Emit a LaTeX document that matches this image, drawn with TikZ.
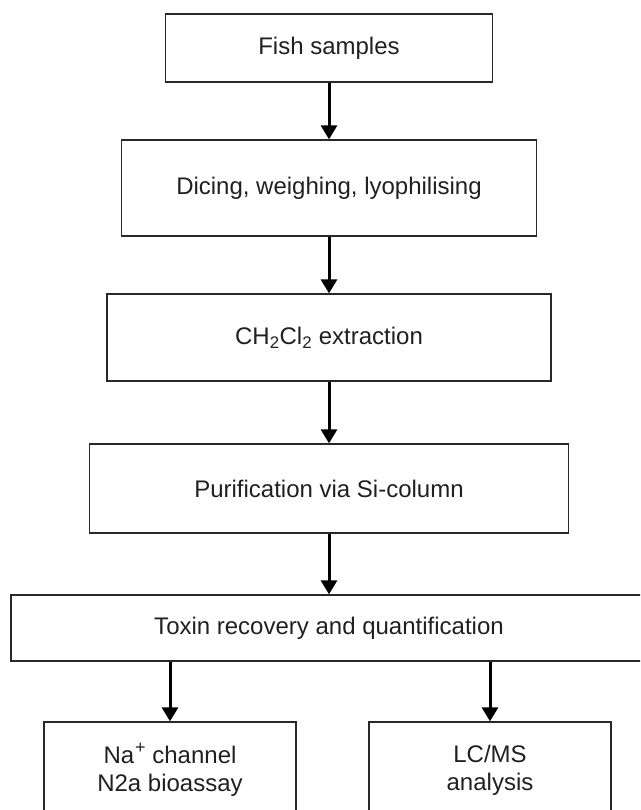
\documentclass[tikz,border=0pt]{standalone}
\usepackage{fontspec}
\setmainfont{Liberation Sans}
\usetikzlibrary{arrows.meta}
\definecolor{txt}{RGB}{35,31,32}
\definecolor{edge}{RGB}{40,40,40}
\begin{document}
\begin{tikzpicture}[x=1pt,y=-1pt,
  box/.style={draw=edge, line width=1.3pt, rectangle, inner sep=0pt, text=txt,
    font=\fontsize{24}{28}\selectfont, align=center},
  flow/.style={-{Triangle[width=16pt,length=14pt]}, line width=3pt, black}]
\useasboundingbox (0,0) rectangle (640,810);
\clip (0,0) rectangle (640,810);
\node[box, minimum width=327pt, minimum height=68pt] (fish) at (329,48) {Fish samples};
\node[box, minimum width=415pt, minimum height=96pt] (dice) at (329,188) {Dicing, weighing, lyophilising};
\node[box, minimum width=444pt, minimum height=87pt] (extr) at (329,337.5) {CH\textsubscript{2}Cl\textsubscript{2} extraction};
\node[box, minimum width=479pt, minimum height=89pt] (puri) at (329,488.5) {Purification via Si-column};
\node[box, minimum width=636pt, minimum height=66pt] (toxin) at (329,628) {Toxin recovery and quantification};
\node[box, minimum width=252pt, minimum height=96pt] (na) at (170,770) {Na\kern1pt\raisebox{9.5pt}{\fontsize{18}{18}\selectfont +} channel\\N2a bioassay};
\node[box, minimum width=242pt, minimum height=96pt] (lcms) at (490,770) {LC/MS\\analysis};
\draw[flow] (fish.south) -- (dice.north);
\draw[flow] (dice.south) -- (extr.north);
\draw[flow] (extr.south) -- (puri.north);
\draw[flow] (puri.south) -- (toxin.north);
\draw[flow] (toxin.south -| na.north) -- (na.north);
\draw[flow] (toxin.south -| lcms.north) -- (lcms.north);
\end{tikzpicture}
\end{document}
